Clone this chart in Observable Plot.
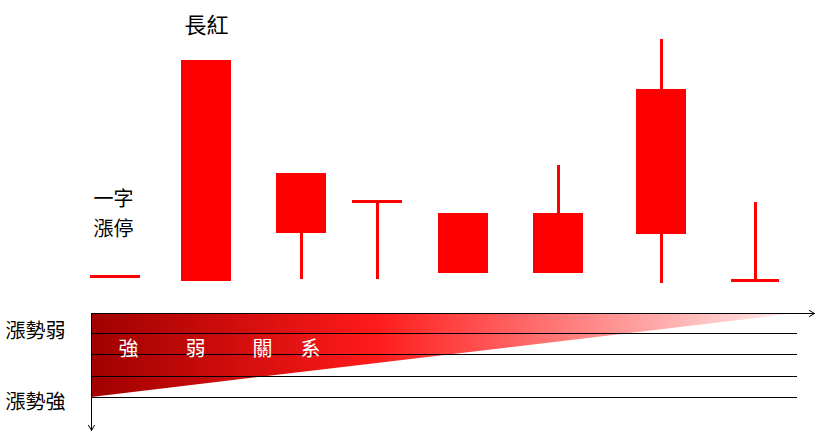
<!DOCTYPE html>
<html>
<head>
<meta charset="utf-8">
<script src="https://cdn.jsdelivr.net/npm/d3@7"></script>
<script src="https://cdn.jsdelivr.net/npm/@observablehq/plot@0.6"></script>
<style>
  body { margin: 0; background: #fff; }
  #chart svg { display: block; }
</style>
</head>
<body>
<div id="chart"></div>
<script>
// candle centres and levels (y grows downward)
const centers = [115, 206, 301, 377, 463, 558, 661, 755];
const opens   = [276, 281, 233, 201, 273, 273, 234, 280];
const closes  = [276, 60, 173, 201, 213, 213, 89, 280];
const highs   = [276, 60, 173, 201, 213, 165, 39, 202];
const lows    = [276, 281, 279, 279, 273, 273, 283, 280];
const halfWidths = [25, 25, 25, 25, 25, 25, 25, 24];

const rows = [333, 354, 376, 397];
const labels = ["強", "弱", "關", "系"];
const labelX = [128, 195, 262, 310];

const candles = centers.map((c, i) => ({
  x: c, w: halfWidths[i], o: opens[i], c: closes[i], h: highs[i], l: lows[i]
}));
const bodies = candles.filter(d => Math.abs(d.o - d.c) > 1);
const flats = candles.filter(d => Math.abs(d.o - d.c) <= 1);
const triangle = [{x: 91, top: 313, bot: 397}, {x: 797, top: 313, bot: 313}];

const font = "'Noto Sans CJK TC', 'Noto Sans', sans-serif";
const red = "#ff0000";

const chart = Plot.plot({
  width: 826,
  height: 443,
  margin: 0,
  x: {domain: [0, 826], axis: null},
  y: {domain: [443, 0], axis: null},
  style: {fontFamily: font},
  marks: [
    Plot.areaY(triangle, {x: "x", y1: "top", y2: "bot", fill: "url(#grad)"}),
    Plot.ruleY(rows, {x1: 91, x2: 797, stroke: "#000", strokeWidth: 1}),
    Plot.arrow([{x1: 91, y1: 313, x2: 814, y2: 313}], {x1: "x1", y1: "y1", x2: "x2", y2: "y2", stroke: "#000", strokeWidth: 1, headLength: 9}),
    Plot.arrow([{x1: 91, y1: 313, x2: 91, y2: 430}], {x1: "x1", y1: "y1", x2: "x2", y2: "y2", stroke: "#000", strokeWidth: 1, headLength: 9}),
    Plot.ruleX(candles.filter(d => d.h < d.l - 1), {x: "x", y1: "h", y2: "l", stroke: red, strokeWidth: 3}),
    Plot.rect(bodies, {x1: d => d.x - d.w, x2: d => d.x + d.w, y1: "o", y2: "c", fill: red}),
    Plot.ruleY(flats, {y: "o", x1: d => d.x - d.w, x2: d => d.x + d.w, stroke: red, strokeWidth: 3}),
    Plot.text(labels, {x: (d, i) => labelX[i], y: 349, text: d => d, fill: "#fff", fontSize: 20}),
    Plot.text(["長紅"], {x: 206, y: 25, fontSize: 22, fill: "#000"}),
    Plot.text(["一字", "漲停"], {x: 113, y: (d, i) => [199, 229][i], fontSize: 20, fill: "#000"}),
    Plot.text(["漲勢弱", "漲勢強"], {x: 5, y: (d, i) => [331, 402][i], fontSize: 20, textAnchor: "start", fill: "#000"})
  ]
});

const svg = d3.select(chart);
const grad = svg.insert("defs", ":first-child").append("linearGradient")
  .attr("id", "grad").attr("gradientUnits", "userSpaceOnUse")
  .attr("x1", 91).attr("x2", 797).attr("y1", 0).attr("y2", 0);
grad.append("stop").attr("offset", "0%").attr("stop-color", "#a00000");
grad.append("stop").attr("offset", "40%").attr("stop-color", "#ff1a1a");
grad.append("stop").attr("offset", "100%").attr("stop-color", "#fff0f0");

d3.select("#chart").append(() => chart);
</script>
</body>
</html>
